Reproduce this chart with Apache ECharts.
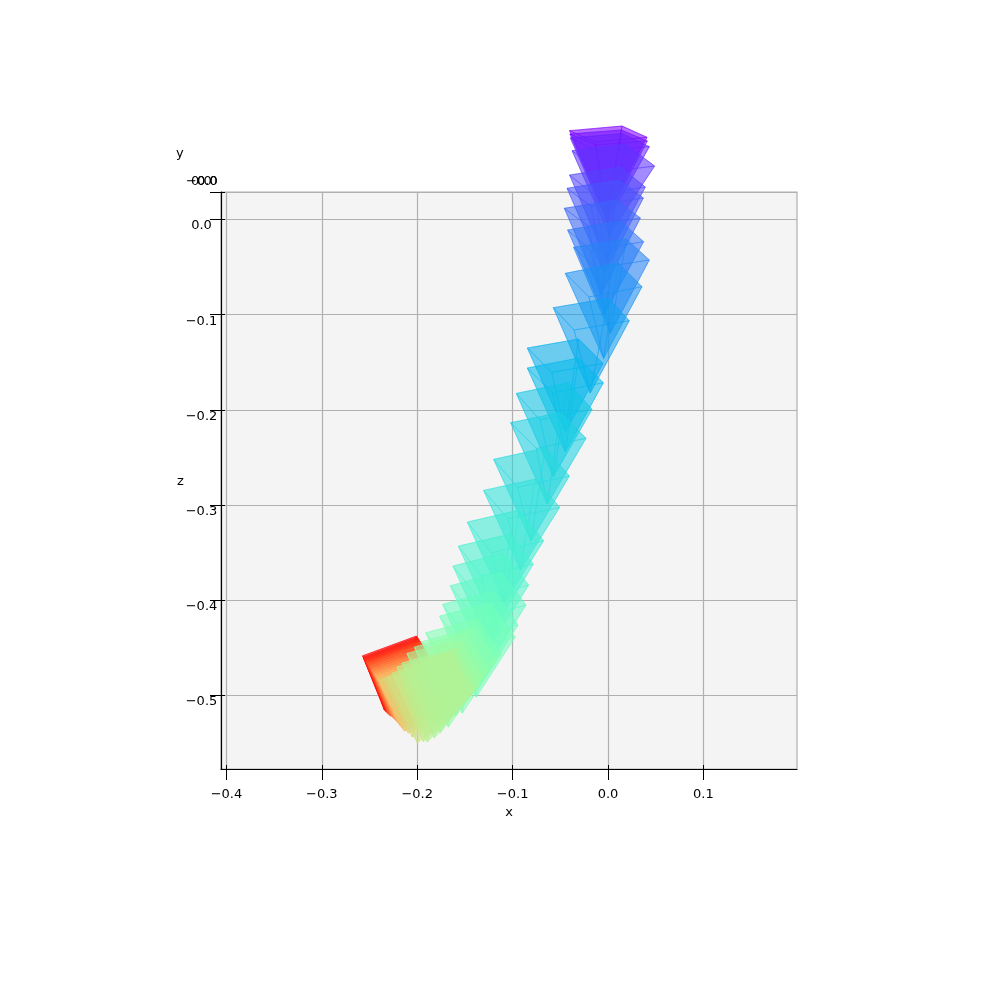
<!DOCTYPE html>
<html>
<head>
<meta charset="utf-8">
<title>camera poses</title>
<script src="https://cdn.jsdelivr.net/npm/echarts@6/dist/echarts.min.js"></script>
<style>
html,body{margin:0;padding:0;background:#fff;}
#main{width:990px;height:989px;}
</style>
</head>
<body>
<div id="main"></div>
<script>
// tick labels
var xTicks = [-0.4, -0.3, -0.2, -0.1, 0.0, 0.1];
var zTicks = [-0.5, -0.4, -0.3, -0.2, -0.1, 0.0];
var xRange = [-0.4057, 0.1981];
var zRange = [-0.5771, 0.0289];
var yTickTexts = ['\u22120.0', '0.0', '0.0'];

// camera frustums: apex and three corners of the base (x, z)
var apexX = [-.0018,-.0013,-.0007,.0014,-.0018,-.0039,-.0070,-.0039,.0024,-.0046,-.0186,-.0448,-.0448,-.0573,-.0636,-.0807,-.0919,-.1087,-.1181,-.1234,-.1265,-.1349,-.1381,-.1527,-.1601,-.1674,-.1758,-.1821,-.1894,-.1936,-.1999,-.2051,-.2093,-.2135,-.2156,-.2177,-.2198,-.2219,-.2240,-.2261,-.2282,-.2292,-.2303,-.2313,-.2324,-.2334,-.2345];
var apexZ = [.0058,.0016,-.0026,-.0163,-.0425,-.0572,-.0783,-.0993,-.1195,-.1458,-.1822,-.2239,-.2439,-.2702,-.2988,-.3374,-.3682,-.4028,-.4280,-.4491,-.4701,-.4890,-.5016,-.5184,-.5215,-.5331,-.5394,-.5446,-.5488,-.5485,-.5499,-.5436,-.5394,-.5373,-.5341,-.5320,-.5289,-.5268,-.5247,-.5226,-.5215,-.5205,-.5194,-.5184,-.5173,-.5163,-.5152];
var cornerAX = [-.0403,-.0400,-.0395,-.0377,-.0403,-.0430,-.0458,-.0423,-.0361,-.0448,-.0573,-.0846,-.0846,-.0961,-.1021,-.1199,-.1304,-.1475,-.1569,-.1625,-.1653,-.1734,-.1765,-.1910,-.1950,-.2030,-.2107,-.2159,-.2212,-.2264,-.2317,-.2355,-.2397,-.2413,-.2429,-.2439,-.2455,-.2471,-.2481,-.2497,-.2507,-.2523,-.2534,-.2544,-.2555,-.2565,-.2572];
var cornerAZ = [.0933,.0898,.0856,.0723,.0467,.0328,.0118,-.0110,-.0292,-.0565,-.0926,-.1350,-.1560,-.1826,-.2134,-.2519,-.2845,-.3178,-.3430,-.3640,-.3847,-.4042,-.4165,-.4340,-.4435,-.4491,-.4557,-.4659,-.4697,-.4764,-.4803,-.4821,-.4837,-.4816,-.4795,-.4774,-.4753,-.4732,-.4711,-.4690,-.4669,-.4653,-.4638,-.4622,-.4606,-.4596,-.4582];
var cornerBX = [.0147,.0139,.0150,.0181,.0129,.0118,.0087,.0129,.0192,.0108,.0006,-.0308,-.0311,-.0416,-.0500,-.0657,-.0762,-.0930,-.1024,-.1097,-.1118,-.1199,-.1234,-.1370,-.1401,-.1485,-.1548,-.1590,-.1635,-.1695,-.1747,-.1789,-.1831,-.1847,-.1863,-.1873,-.1889,-.1905,-.1915,-.1931,-.1947,-.1957,-.1968,-.1978,-.1988,-.1999,-.2009];
var cornerBZ = [.0982,.0940,.0903,.0793,.0551,.0415,.0205,-.0016,-.0205,-.0457,-.0828,-.1255,-.1455,-.1714,-.2027,-.2400,-.2726,-.3051,-.3304,-.3503,-.3703,-.3902,-.4028,-.4196,-.4280,-.4343,-.4417,-.4501,-.4540,-.4606,-.4648,-.4659,-.4669,-.4638,-.4611,-.4585,-.4564,-.4538,-.4517,-.4491,-.4464,-.4449,-.4433,-.4417,-.4401,-.4385,-.4375];
var cornerCX = [.0409,.0412,.0433,.0488,.0391,.0370,.0339,.0373,.0433,.0356,.0223,-.0052,-.0049,-.0168,-.0231,-.0406,-.0507,-.0675,-.0783,-.0832,-.0860,-.0943,-.0972,-.1118,-.1171,-.1255,-.1318,-.1360,-.1412,-.1464,-.1517,-.1569,-.1611,-.1632,-.1653,-.1664,-.1684,-.1695,-.1716,-.1726,-.1747,-.1758,-.1768,-.1779,-.1789,-.1800,-.1810];
var cornerCZ = [.0863,.0825,.0765,.0562,.0341,.0226,.0016,-.0233,-.0425,-.0706,-.1063,-.1511,-.1714,-.1994,-.2298,-.2694,-.3023,-.3374,-.3619,-.3839,-.4049,-.4259,-.4385,-.4564,-.4648,-.4732,-.4795,-.4900,-.4963,-.5026,-.5068,-.5089,-.5110,-.5089,-.5068,-.5047,-.5026,-.5005,-.4984,-.4963,-.4942,-.4921,-.4911,-.4890,-.4879,-.4869,-.4858];
// painter's order: purple to green first, then red back to yellow, the last greens on top
var drawOrder = [0,1,2,3,4,5,6,7,8,9,10,11,12,13,14,15,16,17,18,19,20,21,22,23,46,45,44,43,42,41,40,39,38,37,36,35,34,33,32,31,30,29,24,25,26,27,28];

var FACE_ALPHA = 0.35;
var EDGE_ALPHA = 0.5;

// matplotlib "rainbow" colormap
function rainbow(t){
  var r = Math.min(1, Math.abs(2 * t - 0.5));
  var g = Math.sin(Math.PI * t);
  var b = Math.cos(Math.PI * t / 2);
  return [Math.round(r * 255), Math.round(g * 255), Math.round(b * 255)];
}

function minusText(v){
  return v.toFixed(1).replace('-', '\u2212');
}

function renderFrustum(params, api){
  var i = api.value(0);
  var c = rainbow(i / (apexX.length - 1));
  var fill = 'rgba(' + c.join(',') + ',' + FACE_ALPHA + ')';
  var edge = 'rgba(' + c.join(',') + ',' + EDGE_ALPHA + ')';
  var e = api.coord([apexX[i], apexZ[i]]);
  var a = api.coord([cornerAX[i], cornerAZ[i]]);
  var b = api.coord([cornerBX[i], cornerBZ[i]]);
  var k = api.coord([cornerCX[i], cornerCZ[i]]);
  // base is a parallelogram, the fourth corner follows from the other three
  var d = [a[0] + k[0] - b[0], a[1] + k[1] - b[1]];
  var faces = [[a, b, k, d], [a, b, e], [b, k, e], [k, d, e], [d, a, e]];
  return {
    type: 'group',
    children: faces.map(function(points){
      return {
        type: 'polygon',
        shape: {points: points},
        style: {fill: fill, stroke: edge, lineWidth: 0.8}
      };
    })
  };
}

var tickFont = {fontFamily: 'DejaVu Sans', fontSize: 13, color: '#000'};

var option = {
  animation: false,
  backgroundColor: '#fff',
  textStyle: {fontFamily: 'DejaVu Sans'},
  grid: {
    left: 221, top: 192, width: 576, height: 577,
    show: true, backgroundColor: '#f4f4f4', borderColor: '#b0b0b0', borderWidth: 1.2
  },
  xAxis: [
    {
      type: 'value', min: xRange[0], max: xRange[1], position: 'bottom',
      name: 'x', nameLocation: 'middle', nameGap: 32,
      nameTextStyle: tickFont,
      axisLine: {onZero: false, lineStyle: {color: '#000', width: 1.2}},
      axisTick: {show: true, length: 11, customValues: xTicks, lineStyle: {color: '#000', width: 1}},
      axisLabel: {customValues: xTicks, margin: 19, formatter: minusText, fontFamily: 'DejaVu Sans', fontSize: 13, color: '#000'},
      splitLine: {show: true, lineStyle: {color: '#b0b0b0', width: 1.2}}
    },
    {
      type: 'value', min: xRange[0], max: xRange[1], position: 'bottom',
      axisLine: {show: false, onZero: false},
      axisTick: {show: true, inside: true, length: 4, customValues: xTicks, lineStyle: {color: '#000', width: 1}},
      axisLabel: {show: false},
      splitLine: {show: false}
    }
  ],
  yAxis: [
    {
      type: 'value', min: zRange[0], max: zRange[1], position: 'left',
      axisLine: {onZero: false, lineStyle: {color: '#000', width: 1.2}},
      axisTick: {show: true, length: 11, customValues: zTicks.concat([zRange[1]]), lineStyle: {color: '#000', width: 1}},
      axisLabel: {
        customValues: zTicks, margin: 19.5, align: 'center', verticalAlign: 'top',
        formatter: minusText, fontFamily: 'DejaVu Sans', fontSize: 13, color: '#000'
      },
      splitLine: {show: true, lineStyle: {color: '#b0b0b0', width: 1.2}}
    },
    {
      type: 'value', min: zRange[0], max: zRange[1], position: 'left',
      axisLine: {show: false, onZero: false},
      axisTick: {show: true, inside: true, length: 4, customValues: zTicks.concat([zRange[1]]), lineStyle: {color: '#000', width: 1}},
      axisLabel: {show: false},
      splitLine: {show: false}
    }
  ],
  graphic: [
    {type: 'text', left: 176, top: 147, style: {text: 'y', font: '13px "DejaVu Sans"', fill: '#000'}},
    {type: 'text', left: 177, top: 475, style: {text: 'z', font: '13px "DejaVu Sans"', fill: '#000'}},
    {type: 'text', left: 186, top: 175, style: {text: yTickTexts[0], font: '13px "DejaVu Sans"', fill: '#000'}},
    {type: 'text', left: 191, top: 175, style: {text: yTickTexts[1], font: '13px "DejaVu Sans"', fill: '#000'}},
    {type: 'text', left: 197, top: 175, style: {text: yTickTexts[2], font: '13px "DejaVu Sans"', fill: '#000'}}
  ],
  series: [{
    type: 'custom',
    coordinateSystem: 'cartesian2d',
    xAxisIndex: 0,
    yAxisIndex: 0,
    clip: false,
    silent: true,
    renderItem: renderFrustum,
    data: drawOrder.map(function(i){ return [i]; })
  }]
};

var chart = echarts.init(document.getElementById('main'), null, {renderer: 'canvas'});
chart.setOption(option);
</script>
</body>
</html>
